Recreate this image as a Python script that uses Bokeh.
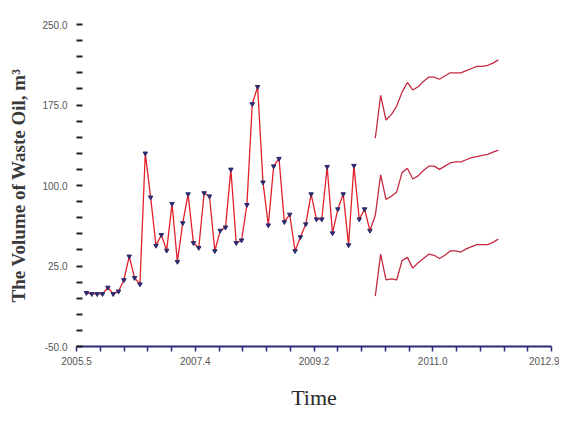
import numpy as np
from bokeh.plotting import figure
from bokeh.models import FixedTicker, NumeralTickFormatter, Range1d
from bokeh.embed import file_html
from bokeh.resources import INLINE

# ---------------- data ----------------
start_year = 2005.655  # first monthly observation (decimal year)

hist_values = [0, -1, -1, -1, 5, -1, 1.4, 12, 34, 14, 8, 130, 89, 44, 54, 39.5,
               83, 29, 65, 92, 46.5, 42, 93, 90, 39, 58, 61, 115, 46.5, 49, 82,
               176, 192, 103, 63, 118, 125, 66, 73, 39, 52, 64, 92, 68.6, 68.6,
               117.5, 55.6, 78, 92, 44.5, 118.5, 68.6, 78, 58]

fc_upper = [144, 184, 161, 166, 174, 187, 196, 189, 192, 197, 201, 201, 199,
            202, 205, 205, 205, 207, 209, 211, 211, 212, 214, 217]
fc_mid = [72, 110, 87, 90, 94, 112, 116, 106, 109, 114, 118, 118, 115, 118,
          121, 122, 122, 124, 126, 127, 128, 129, 131, 133]
fc_lower = [-3, 36, 12, 13, 12, 30, 33, 23, 28, 32, 36, 35, 32, 35, 39, 39,
            38, 41, 43, 45, 45, 45, 47, 50]

x_major = [2005.5, 2007.35, 2009.2, 2011.05, 2012.9]
x_labels = ["2005.5", "2007.4", "2009.2", "2011.0", "2012.9"]
y_major = [-50, 25, 100, 175, 250]

# ---------------- positions ----------------
n_hist = len(hist_values)
hist_t = start_year + np.arange(n_hist) / 12.0
fc_t = start_year + (n_hist + np.arange(len(fc_mid))) / 12.0
mid_t = np.concatenate([[hist_t[-1]], fc_t])
mid_v = [hist_values[-1]] + fc_mid

x_minor = []
for a, b in zip(x_major[:-1], x_major[1:]):
    step = (b - a) / 5
    x_minor += [a + step * j for j in range(1, 5)]
y_minor = []
for a, b in zip(y_major[:-1], y_major[1:]):
    step = (b - a) / 5
    y_minor += [a + step * j for j in range(1, 5)]

# ---------------- figure ----------------
p = figure(width=559, height=412, output_backend="svg", toolbar_location=None,
           x_range=Range1d(x_major[0], x_major[-1]), y_range=Range1d(y_major[0], y_major[-1]),
           min_border_left=76, min_border_right=8, min_border_top=24, min_border_bottom=60)
p.outline_line_color = None
p.xgrid.visible = False
p.ygrid.visible = False
p.background_fill_color = "white"
p.border_fill_color = "white"

hist_color = "#e0202a"
fc_color = "#c42a40"
marker_color = "#2b2b6e"

p.line(hist_t, hist_values, line_color=hist_color, line_width=1.3)
p.scatter(hist_t, hist_values, marker="inverted_triangle", size=4.5,
          fill_color=marker_color, line_color=marker_color)
p.line(fc_t, fc_upper, line_color=fc_color, line_width=1.3)
p.line(mid_t, mid_v, line_color=fc_color, line_width=1.3)
p.line(fc_t, fc_lower, line_color=fc_color, line_width=1.3)

# x axis
xa = p.xaxis[0]
xa.ticker = FixedTicker(ticks=x_major, minor_ticks=x_minor)
xa.major_label_overrides = {t: l for t, l in zip(x_major, x_labels)}
xa.axis_line_color = "#2a2a7a"
xa.axis_line_width = 2
xa.major_tick_line_color = "#2a2a7a"
xa.minor_tick_line_color = "#2a2a7a"
xa.major_tick_line_width = 1.5
xa.minor_tick_line_width = 1.5
xa.major_tick_in = 0
xa.major_tick_out = 5
xa.minor_tick_in = 0
xa.minor_tick_out = 5
xa.major_label_text_font = "Liberation Sans"
xa.major_label_text_font_size = "10px"
xa.major_label_text_color = "#555555"
xa.major_label_standoff = 5
xa.axis_label = "Time"
xa.axis_label_text_font = "Liberation Serif"
xa.axis_label_text_font_style = "normal"
xa.axis_label_text_font_size = "22px"
xa.axis_label_text_color = "#2a2a2a"
xa.axis_label_standoff = 17

# y axis
ya = p.yaxis[0]
ya.ticker = FixedTicker(ticks=y_major, minor_ticks=y_minor)
ya.formatter = NumeralTickFormatter(format="0.0")
ya.axis_line_color = None
ya.major_tick_line_color = "#222222"
ya.minor_tick_line_color = "#222222"
ya.major_tick_line_width = 2
ya.minor_tick_line_width = 2
ya.major_tick_in = 6
ya.major_tick_out = 0
ya.minor_tick_in = 6
ya.minor_tick_out = 0
ya.major_label_text_font = "Liberation Sans"
ya.major_label_text_font_size = "10px"
ya.major_label_text_color = "#555555"
ya.major_label_standoff = 9
ya.axis_label = "The Volume of Waste Oil, m³"
ya.axis_label_text_font = "Liberation Serif"
ya.axis_label_text_font_style = "bold"
ya.axis_label_text_font_size = "19px"
ya.axis_label_text_color = "#3a3a3a"
ya.axis_label_standoff = 10

open("out.html", "w").write(file_html(p, INLINE))
